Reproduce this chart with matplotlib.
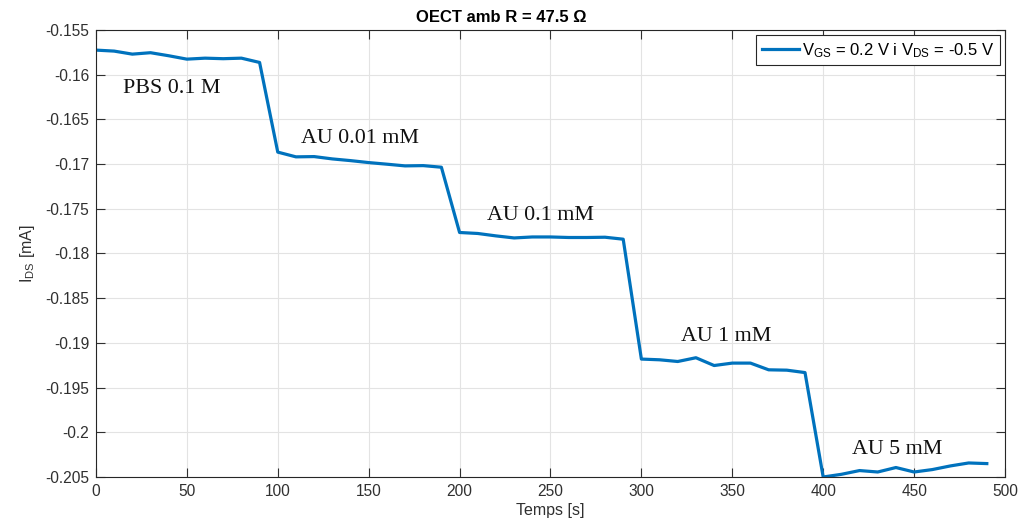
import numpy as np
import matplotlib.pyplot as plt

plt.rcParams['font.family'] = ['Liberation Sans', 'DejaVu Sans']
plt.rcParams['mathtext.default'] = 'regular'

# time in seconds, one reading every 10 s
temps = np.arange(0, 500, 10)

# drain current in mA
ids = [-0.15725, -0.15736, -0.15770, -0.15754, -0.15788, -0.15826, -0.15815, -0.15821, -0.15815, -0.15863,
       -0.16866, -0.16919, -0.16916, -0.16942, -0.16961, -0.16983, -0.17001, -0.17020, -0.17017, -0.17035,
       -0.17765, -0.17776, -0.17803, -0.17826, -0.17815, -0.17815, -0.17821, -0.17821, -0.17818, -0.17840,
       -0.19181, -0.19189, -0.19208, -0.19166, -0.19253, -0.19226, -0.19226, -0.19301, -0.19305, -0.19332,
       -0.20500, -0.20470, -0.20428, -0.20444, -0.20394, -0.20444, -0.20417, -0.20376, -0.20343, -0.20350]

etiquetes = ['PBS 0.1 M', 'AU 0.01 mM', 'AU 0.1 mM', 'AU 1 mM', 'AU 5 mM']
etiq_x = [15, 113, 215, 322, 416]
etiq_y = [-0.16155, -0.16717, -0.17571, -0.1893, -0.2019]

fig = plt.figure(figsize=(10.23, 5.30), dpi=100)
ax = fig.add_axes([0.0938, 0.1, 0.8886, 0.8434])

ax.plot(temps, ids, color='#0072BD', lw=2.3, label='$V_{GS}$ = 0.2 V i $V_{DS}$ = -0.5 V')

for txt, x, y in zip(etiquetes, etiq_x, etiq_y):
    ax.text(x, y, txt, family='Liberation Serif', fontsize=15.8, color='#111111', va='center', ha='left')

ax.set_xlim(0, 500)
ax.set_ylim(-0.205, -0.155)
ax.set_xticks(np.arange(0, 501, 50))
ax.set_yticks(np.arange(-0.205, -0.1549, 0.005))
ax.set_yticklabels([('%g' % round(v, 3)) for v in np.arange(-0.205, -0.1549, 0.005)])

ax.grid(True, color='#e3e3e3', lw=0.8)
ax.set_axisbelow(True)
ax.tick_params(direction='in', length=6.5, width=0.8, top=True, right=True,
               labelsize=11.2, colors='#303030', pad=5)
for s in ax.spines.values():
    s.set_color('#262626')
    s.set_linewidth(0.8)

ax.set_title('OECT amb R = 47.5 Ω', fontsize=12, fontweight='bold', x=0.446, pad=6)
ax.set_xlabel('Temps [s]', fontsize=11.5, color='#303030', labelpad=3)
ax.set_ylabel('$I_{DS}$ [mA]', fontsize=11.5, color='#303030', labelpad=6)

leg = ax.legend(loc='upper right', fontsize=12, fancybox=False, framealpha=1,
                edgecolor='#262626', handlelength=2.2, borderpad=0.35, handletextpad=0.2,
                borderaxespad=0.3)
leg.get_frame().set_linewidth(0.8)

fig.savefig('out.png', dpi=100)
